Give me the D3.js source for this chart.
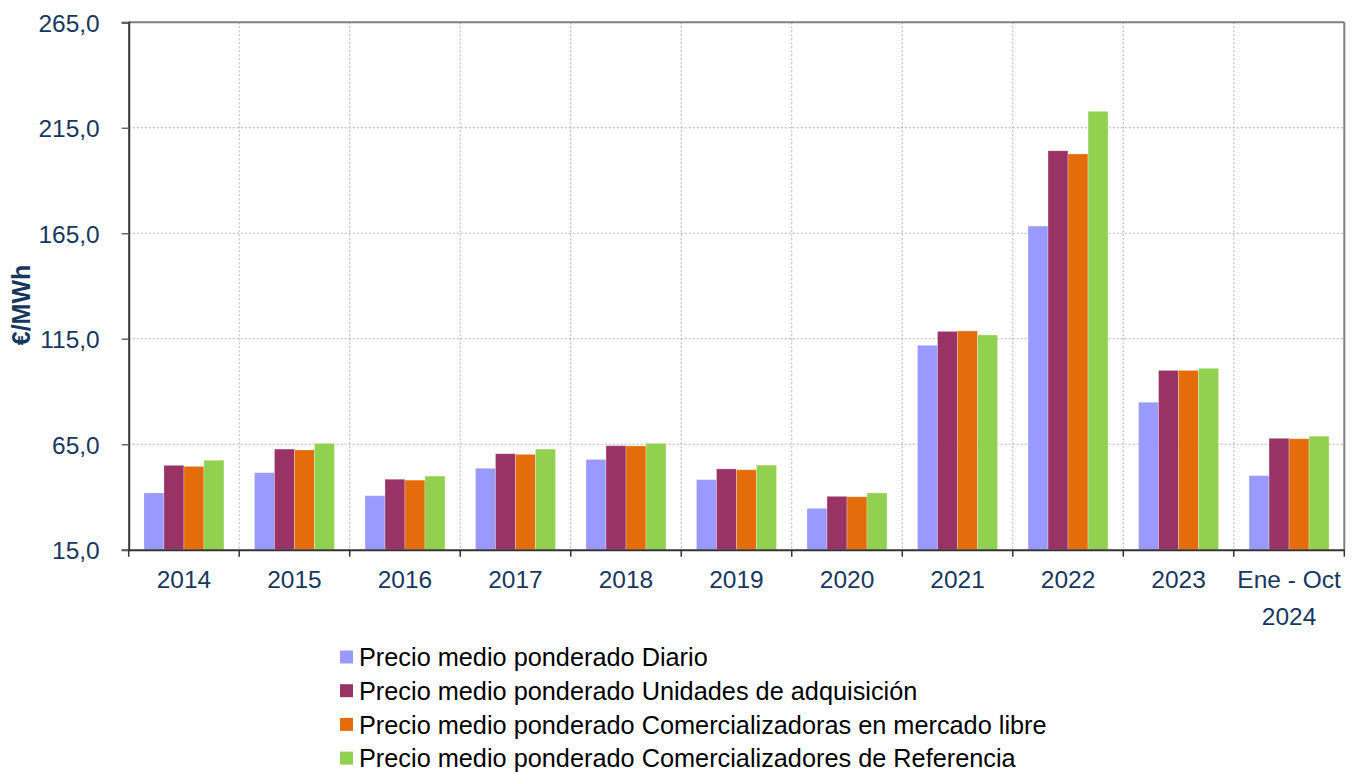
<!DOCTYPE html>
<html><head><meta charset="utf-8">
<script src="https://cdn.jsdelivr.net/npm/d3@7"></script>
<style>body{margin:0;background:#fff}svg{display:block}</style>
</head><body>
<svg id="c" width="1359" height="773"></svg>
<script>
const categories = ["2014","2015","2016","2017","2018","2019","2020","2021","2022","2023","Ene - Oct|2024"];
const seriesNames = [
  "Precio medio ponderado Diario",
  "Precio medio ponderado Unidades de adquisición",
  "Precio medio ponderado Comercializadoras en mercado libre",
  "Precio medio ponderado Comercializadores de Referencia"
];
const diario       = [41.9, 51.5, 40.6, 53.6, 57.8, 48.2, 34.6, 111.9, 168.4, 84.9, 50.1];
const unidades     = [55.0, 62.7, 48.4, 60.5, 64.3, 53.3, 40.3, 118.5, 204.1, 100.0, 67.8];
const comerciales  = [54.5, 62.3, 48.0, 60.2, 64.2, 52.9, 40.1, 118.7, 202.6, 100.0, 67.6];
const referencia   = [57.4, 65.4, 49.9, 62.7, 65.4, 55.1, 41.9, 116.8, 222.8, 101.0, 68.8];
const yTicks = [15, 65, 115, 165, 215, 265];
const colors = ["#9999FF", "#993366", "#E46C0A", "#92D050"];
const yLabel = "€/MWh";

const seriesValues = [diario, unidades, comerciales, referencia];
const svg = d3.select("#c");
const L = 128.7, R = 1344.3, T = 22.3, B = 549.7;
const tickColor = "#17375E";
const font = "Arial, 'Liberation Sans', sans-serif";

const x0 = d3.scaleBand().domain(categories).range([L, R]).padding(0);
const gap = 30.5;
const x1 = d3.scaleBand().domain(d3.range(4)).range([gap/2, x0.bandwidth() - gap/2]).padding(0);
const y = d3.scaleLinear().domain([15, 265]).range([B, T]);

// gridlines horizontal
svg.append("g").selectAll("line").data(yTicks.slice(1)).join("line")
  .attr("x1", L).attr("x2", R).attr("y1", d => y(d)).attr("y2", d => y(d))
  .attr("stroke", "#b0b0b0").attr("stroke-width", 1).attr("stroke-dasharray", "2,2");
// gridlines vertical
svg.append("g").selectAll("line").data(categories.slice(1)).join("line")
  .attr("x1", d => x0(d)).attr("x2", d => x0(d)).attr("y1", T).attr("y2", B)
  .attr("stroke", "#b0b0b0").attr("stroke-width", 1).attr("stroke-dasharray", "2,2");

// bars
const rows = categories.map((c, i) => ({c, vals: seriesValues.map(s => s[i])}));
const g = svg.append("g").selectAll("g").data(rows).join("g")
  .attr("transform", d => `translate(${x0(d.c)},0)`);
g.selectAll("rect").data(d => d.vals.map((v, k) => ({v, k}))).join("rect")
  .attr("x", d => x1(d.k)).attr("width", x1.bandwidth())
  .attr("y", d => y(d.v)).attr("height", d => B - y(d.v))
  .attr("fill", d => colors[d.k])
  .attr("stroke", "rgba(255,255,255,0.35)").attr("stroke-width", 0.8);

// frame top and right
svg.append("line").attr("x1", L).attr("x2", R).attr("y1", T).attr("y2", T)
  .attr("stroke", "#808080").attr("stroke-width", 2);
svg.append("line").attr("x1", R).attr("x2", R).attr("y1", T).attr("y2", B)
  .attr("stroke", "#808080").attr("stroke-width", 2);

// y axis
const yAxis = d3.axisLeft(y).tickValues(yTicks).tickSize(7).tickPadding(22)
  .tickFormat(d => d3.format(".1f")(d).replace(".", ","));
const ya = svg.append("g").attr("transform", `translate(${L},0)`).call(yAxis);
ya.select(".domain").attr("stroke", "#333").attr("stroke-width", 2);
ya.selectAll(".tick line").attr("stroke", "#666").attr("stroke-width", 1.5);
ya.selectAll("text").attr("fill", tickColor).style("font-family", font).style("font-size", "24.5px")
  .attr("dy", "0.36em");

// x axis
const xAxis = d3.axisBottom(x0).tickSize(0).tickFormat("");
const xa = svg.append("g").attr("transform", `translate(0,${B})`).call(xAxis);
xa.select(".domain").attr("stroke", "#333").attr("stroke-width", 2);
xa.selectAll(".tick").remove();
// category boundary ticks
const bounds = categories.map(c => x0(c)).concat([R]);
svg.append("g").selectAll("line").data(bounds).join("line")
  .attr("x1", d => d).attr("x2", d => d).attr("y1", B).attr("y2", B + 7)
  .attr("stroke", "#333").attr("stroke-width", 1.5);
// category labels
const lab = svg.append("g").selectAll("text").data(categories).join("text")
  .attr("x", d => x0(d) + x0.bandwidth()/2).attr("y", 588)
  .attr("text-anchor", "middle").attr("fill", tickColor)
  .style("font-family", font).style("font-size", "24.5px");
lab.each(function(d) {
  const parts = d.split("|");
  const t = d3.select(this);
  parts.forEach((p, i) => t.append("tspan").attr("x", x0(d) + x0.bandwidth()/2).attr("dy", i === 0 ? 0 : 37).text(p));
});

// y label
svg.append("text").attr("transform", "translate(30,305) rotate(-90)")
  .attr("text-anchor", "middle").attr("fill", tickColor)
  .style("font-family", font).style("font-size", "25px").style("font-weight", "bold")
  .text(yLabel);

// legend
const lg = svg.append("g").selectAll("g").data(seriesNames).join("g")
  .attr("transform", (d, i) => `translate(340,${657 + i*33.7})`);
lg.append("rect").attr("x", 0).attr("y", -6.5).attr("width", 13).attr("height", 13)
  .attr("fill", (d, i) => colors[i]);
lg.append("text").attr("x", 19).attr("y", 0).attr("dy", "0.36em")
  .style("font-family", font).style("font-size", "25.3px").attr("fill", "#000")
  .text(d => d);
</script>
</body></html>
